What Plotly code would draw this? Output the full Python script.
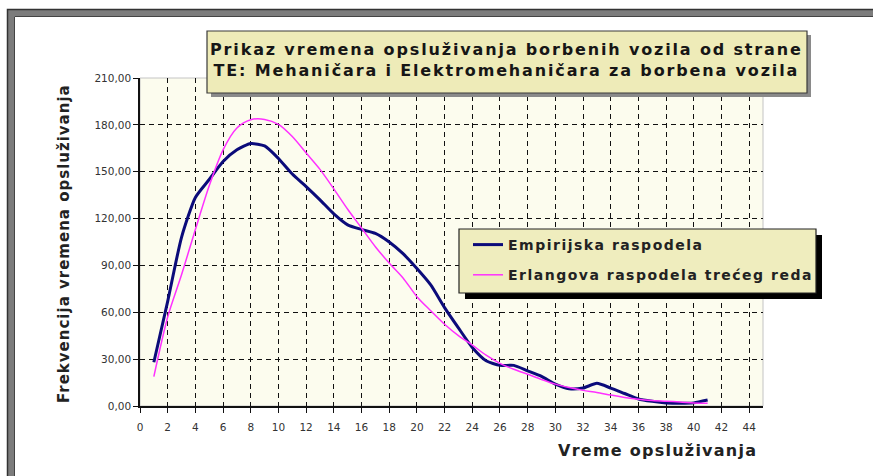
import plotly.graph_objects as go

# ---------------- data ----------------
vreme = list(range(1, 42))
empirijska = [28, 67, 108, 133.5, 145, 156.5, 164, 168, 166.5, 158.5, 148.5, 140.5, 132, 123,
              116, 113, 110.5, 105, 97.5, 88, 77.5, 63, 50, 37.5, 29, 26, 26, 22.5, 19, 14,
              11, 11.5, 14.5, 11.5, 8, 4.5, 3, 2, 1.7, 2, 3.8]
erlangova = [18.8, 57, 84, 113, 141, 164, 178, 183.3, 183.5, 180.3, 172.5, 162, 151.5, 139,
             126, 114, 102, 91.5, 82, 70, 61, 52.3, 45, 39, 32.5, 27.3, 23.5, 20.3, 17, 14,
             11.8, 10, 8.7, 7, 5.5, 4.3, 3.5, 3, 2.6, 2, 1.7]
series_names = ["Empirijska raspodela", "Erlangova raspodela trećeg reda"]
title_lines = ["Prikaz vremena opsluživanja borbenih vozila od strane",
               "TE: Mehaničara i Elektromehaničara za borbena vozila"]
x_title = "Vreme opsluživanja"
y_title = "Frekvencija vremena opsluživanja"
x_ticks = list(range(0, 45, 2))
y_ticks = list(range(0, 211, 30))

# ---------------- layout geometry ----------------
W, H = 873, 476
L, R, T, B = 140, 110, 78, 70
PW, PH = W - L - R, H - T - B


def PX(px):
    return (px - L) / PW


def PY(py):
    return (H - B - py) / PH


def sp(text, s):
    return f'<span style="letter-spacing:{s}px">{text}</span>'


FONT = "DejaVu Sans"

fig = go.Figure()
fig.add_trace(go.Scatter(
    x=vreme, y=empirijska, mode="lines", name=sp(series_names[0], 1.5),
    legendgroup="a", line=dict(color="#0b0b7a", width=3, shape="spline", smoothing=0.6)))
fig.add_trace(go.Scatter(
    x=vreme, y=erlangova, mode="lines", name=sp(series_names[1], 1.5),
    legendgroup="b", line=dict(color="#ff30ff", width=1.5, shape="spline", smoothing=0.8)))

grid = dict(showgrid=True, gridcolor="#111111", gridwidth=1.4, griddash="5px,4px",
            zeroline=False, showline=True, linecolor="#111111", linewidth=1.5,
            ticks="outside", tickcolor="#111111", ticklen=5, tickwidth=1,
            tickfont=dict(family=FONT, size=10.5, color="#333333"))

fig.update_xaxes(range=[0, 45], tickvals=x_ticks, ticklabelstandoff=6, **grid)
fig.update_yaxes(range=[0, 210], tickvals=y_ticks, tickformat=".2f", **grid)


def frame_edge(off, color, width):
    # an open L-shaped path: left edge going up, then top edge going right
    return dict(type="path", xref="paper", yref="paper",
                path=f"M {PX(off)},{PY(476)} L {PX(off)},{PY(off + 2)} L {PX(873)},{PY(off + 2)}",
                line=dict(color=color, width=width), layer="above")


shapes = [
    frame_edge(11, "#7c7c7c", 6),
    frame_edge(7.5, "#333333", 1.5),
    frame_edge(14.5, "#444444", 1),
    # plot area light border
    dict(type="rect", xref="paper", yref="paper", x0=0, y0=0, x1=1, y1=1,
         line=dict(color="#c4c4c4", width=1), layer="below"),
    # title box with shadow
    dict(type="rect", xref="paper", yref="paper", x0=PX(211), y0=PY(35),
         x1=PX(811), y1=PY(97), fillcolor="#8a8a8a", line=dict(width=0), layer="above"),
    dict(type="rect", xref="paper", yref="paper", x0=PX(207), y0=PY(31),
         x1=PX(807), y1=PY(93), fillcolor="#eeebb8",
         line=dict(color="#3a3a3a", width=1.2), layer="above"),
    # legend box with shadow
    dict(type="rect", xref="paper", yref="paper", x0=PX(465), y0=PY(235),
         x1=PX(822), y1=PY(299), fillcolor="#000000", line=dict(width=0), layer="above"),
    dict(type="rect", xref="paper", yref="paper", x0=PX(459), y0=PY(229),
         x1=PX(816), y1=PY(293), fillcolor="#efedbe",
         line=dict(color="#222222", width=1.2), layer="above"),
]

annotations = [
    dict(text=sp(title_lines[0], 1.85) + "<br>" + sp(title_lines[1], 1.85),
         xref="paper", yref="paper", x=PX(507), y=PY(60), xanchor="center", yanchor="middle",
         showarrow=False, align="center",
         font=dict(family=FONT, size=16, color="#161616", weight="bold")),
    dict(text=sp(x_title, 1.25), xref="paper", yref="paper", x=PX(759), y=PY(450),
         xanchor="right", yanchor="middle", showarrow=False,
         font=dict(family=FONT, size=16, color="#222222", weight="bold")),
    dict(text=sp(y_title, 1.0), xref="paper", yref="paper", x=PX(64), y=PY(244),
         xanchor="center", yanchor="middle", textangle=-90, showarrow=False,
         font=dict(family=FONT, size=15, color="#222222", weight="bold")),
]

fig.update_layout(
    width=W, height=H, autosize=False,
    margin=dict(l=L, r=R, t=T, b=B, pad=0),
    paper_bgcolor="#ffffff", plot_bgcolor="#fcfcee",
    separators=",.",
    showlegend=True,
    legend=dict(x=PX(468), y=PY(229), xanchor="left", yanchor="top",
                bgcolor="rgba(0,0,0,0)", borderwidth=0, tracegroupgap=9,
                font=dict(family=FONT, size=14, color="#222222", weight="bold")),
    shapes=shapes, annotations=annotations,
)

fig.write_html("out.html", config={"displayModeBar": False},
               post_script="document.body.style.margin='0px';"
                           "document.body.style.overflow='hidden';")
